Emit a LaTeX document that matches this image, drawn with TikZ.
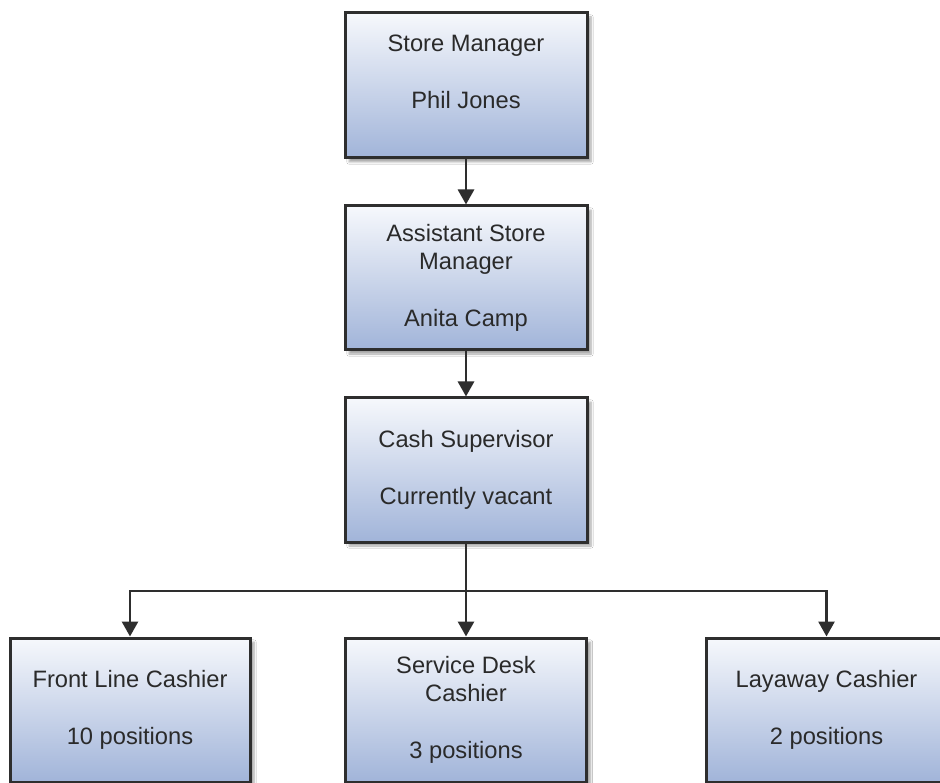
\documentclass[tikz,border=0pt]{standalone}
\usepackage{fontspec}
\setmainfont{Liberation Sans}
\usetikzlibrary{arrows.meta,shadows.blur}
\definecolor{boxtop}{HTML}{F6F8FC}
\definecolor{boxbot}{HTML}{A1B4D9}
\definecolor{edge}{HTML}{2E2E2E}
\definecolor{txt}{HTML}{2A2A2A}
\tikzset{
  orgbox/.style={draw=edge, line width=3pt, top color=boxtop, bottom color=boxbot,
    minimum width=242pt, minimum height=145pt, inner sep=0pt, align=center,
    text=txt, font=\fontsize{23.7}{28.5}\selectfont,
    blur shadow={shadow xshift=4pt, shadow yshift=-4pt, shadow blur steps=6, shadow opacity=35}},
  conn/.style={draw=edge, line width=2.8pt},
  arr/.style={conn, -{Triangle[width=16pt,length=15pt]}}
}
\begin{document}
\begin{tikzpicture}[x=1pt,y=-1pt]
\useasboundingbox[fill=white] (0,0) rectangle (940,783);
\node[orgbox] (sm) at (466,85.5) {Store Manager\\[28.5pt]Phil Jones\\ };
\node[orgbox, minimum height=144pt] (asm) at (466,278) {Assistant Store\\Manager\\[28.5pt]Anita Camp};
\node[orgbox, minimum height=144pt] (cs) at (466,470) {Cash Supervisor\\[28.5pt]Currently vacant};
\node[orgbox, minimum height=144pt, minimum width=240pt] (fl) at (130,710) {Front Line Cashier\\[28.5pt]10 positions};
\node[orgbox, minimum height=144pt, minimum width=241pt] (sd) at (466,710) {Service Desk\\Cashier\\[28.5pt]3 positions};
\node[orgbox, minimum height=144pt, minimum width=240pt] (lc) at (826.5,710) {Layaway Cashier\\[28.5pt]2 positions};
\coordinate (split) at (466,591);
\draw[arr] (sm.south) -- (asm.north);
\draw[arr] (asm.south) -- (cs.north);
\draw[conn] (cs.south) -- (split);
\draw[arr] (split) -| (fl.north);
\draw[arr] (split) -- (sd.north);
\draw[arr] (split) -| (lc.north);
\end{tikzpicture}
\end{document}
